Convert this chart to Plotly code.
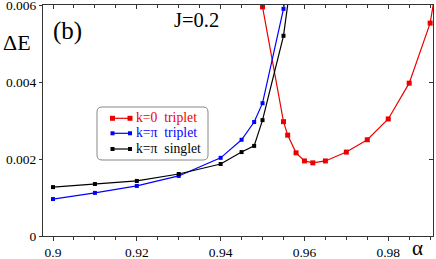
import plotly.graph_objects as go

# ---- data ----
alpha_k0_trip = [0.950, 0.955, 0.956, 0.958, 0.960, 0.962, 0.965, 0.970, 0.975, 0.980, 0.985, 0.990, 0.995]
dE_k0_trip = [0.00595, 0.00297, 0.00262, 0.00216, 0.00195, 0.00190, 0.00195, 0.00218, 0.00250, 0.00304, 0.00397, 0.00553, 0.00880]

alpha_kpi_trip = [0.90, 0.91, 0.92, 0.93, 0.94, 0.945, 0.948, 0.950, 0.955, 0.956]
dE_kpi_trip = [0.00096, 0.00112, 0.00130, 0.00156, 0.00203, 0.00250, 0.00296, 0.00345, 0.00590, 0.00660]

alpha_kpi_sing = [0.90, 0.91, 0.92, 0.93, 0.94, 0.945, 0.948, 0.950, 0.955, 0.957]
dE_kpi_sing = [0.00127, 0.00135, 0.00143, 0.00161, 0.00187, 0.00218, 0.00234, 0.00301, 0.00520, 0.00680]

series_names = ["k=0&nbsp;&nbsp;triplet", "k=π&nbsp;&nbsp;triplet", "k=π&nbsp;&nbsp;singlet"]

x_ticks = [0.90, 0.92, 0.94, 0.96, 0.98]
x_tick_labels = ["0.9", "0.92", "0.94", "0.96", "0.98"]
y_ticks = [0, 0.002, 0.004, 0.006]
y_tick_labels = ["0", "0.002", "0.004", "0.006"]

X_RANGE = [0.89761, 0.99068]
Y_RANGE = [0, 0.006]

SERIF = "'Liberation Serif', 'Times New Roman', Times, serif"
RED = "rgb(235,0,0)"
BLUE = "rgb(0,0,255)"
BLACK = "black"
colors = [RED, BLUE, BLACK]
msizes = [5, 4, 4]

fig = go.Figure()
for xs, ys, c, ms, nm in zip([alpha_k0_trip, alpha_kpi_trip, alpha_kpi_sing],
                             [dE_k0_trip, dE_kpi_trip, dE_kpi_sing], colors, msizes, series_names):
    fig.add_trace(go.Scatter(x=xs, y=ys, mode="lines+markers",
                             line=dict(color=c, width=1.2),
                             marker=dict(symbol="square", size=ms, color=c),
                             name=nm, showlegend=False))
# empty trace to activate mirrored tick axes
fig.add_trace(go.Scatter(x=[], y=[], xaxis="x2", yaxis="y2", showlegend=False, hoverinfo="skip"))

W, H = 436, 259
L, R, T, B = 43, 3, 5, 23
pw, ph = W - L - R, H - T - B


def px(xp):
    return (xp - L) / pw


def py(yp):
    return (H - B - yp) / ph


axis_common = dict(showgrid=False, zeroline=False, linecolor="#333", linewidth=1,
                   tickcolor="#333", tickwidth=1, ticklabeloverflow="allow",
                   tickfont=dict(family=SERIF, size=13.5, color="black"))

fig.update_layout(
    width=W, height=H,
    font=dict(family=SERIF, color="black"),
    margin=dict(l=L, r=R, t=T, b=B, autoexpand=False),
    paper_bgcolor="white", plot_bgcolor="white",
    showlegend=False,
    xaxis=dict(range=X_RANGE, tickvals=x_ticks, ticktext=x_tick_labels,
               ticks="outside", ticklen=4, mirror=True, showline=True,
               minor=dict(dtick=0.005, tick0=0.9, ticks="outside", ticklen=3, tickcolor="#333"),
               **axis_common),
    yaxis=dict(range=Y_RANGE, tickvals=y_ticks, ticktext=y_tick_labels,
               ticks="outside", ticklen=3, mirror=True, showline=True,
               **axis_common),
    xaxis2=dict(range=X_RANGE, overlaying="x", side="top", showticklabels=False,
                tickvals=x_ticks, ticks="inside", ticklen=4, showgrid=False, zeroline=False,
                showline=False, tickcolor="#333",
                minor=dict(dtick=0.005, tick0=0.9, ticks="inside", ticklen=3, tickcolor="#333")),
    yaxis2=dict(range=Y_RANGE, overlaying="y", side="right", showticklabels=False,
                tickvals=y_ticks, ticks="inside", ticklen=4, showgrid=False, zeroline=False,
                showline=False, tickcolor="#333"),
)

# rounded legend frame
x0, x1 = px(97), px(208)
y0, y1 = py(160), py(107)
rx, ry = 5 / pw, 5 / ph
path = (f"M {x0+rx},{y1} L {x1-rx},{y1} Q {x1},{y1} {x1},{y1-ry} "
        f"L {x1},{y0+ry} Q {x1},{y0} {x1-rx},{y0} L {x0+rx},{y0} "
        f"Q {x0},{y0} {x0},{y0+ry} L {x0},{y1-ry} Q {x0},{y1} {x0+rx},{y1} Z")
fig.add_shape(type="path", path=path, xref="paper", yref="paper",
              line=dict(color="#888", width=1), fillcolor="white", layer="above")

# legend entries (key line with end markers + coloured label)
row_y = [118.3, 133.3, 149.0]
for nm, c, ms, ry_ in zip(series_names, colors, msizes, row_y):
    fig.add_shape(type="line", x0=px(112.5), x1=px(130), y0=py(ry_), y1=py(ry_),
                  xref="paper", yref="paper", line=dict(color=c, width=1.2), layer="above")
    for xe in (112.5, 130):
        h = ms / 2
        fig.add_shape(type="rect", x0=px(xe - h), x1=px(xe + h), y0=py(ry_ + h), y1=py(ry_ - h),
                      xref="paper", yref="paper", line=dict(width=0), fillcolor=c, layer="above")
    fig.add_annotation(text=nm, x=px(133.5), y=py(ry_ - 0.5), xref="paper", yref="paper",
                       xanchor="left", yanchor="middle", showarrow=False,
                       font=dict(family=SERIF, size=13.7, color=c))

fig.add_annotation(text="(b)", x=px(51), y=py(31), xref="paper", yref="paper",
                   xanchor="left", yanchor="middle", showarrow=False,
                   font=dict(family=SERIF, size=25, color="black"))
fig.add_annotation(text="J=0.2", x=px(171.5), y=py(20), xref="paper", yref="paper",
                   xanchor="left", yanchor="middle", showarrow=False,
                   font=dict(family=SERIF, size=20.5, color="black"))
fig.add_annotation(text="ΔE", x=px(0.5), y=py(43), xref="paper", yref="paper",
                   xanchor="left", yanchor="middle", showarrow=False,
                   font=dict(family=SERIF, size=22, color="black"))
fig.add_annotation(text="α", x=px(417), y=py(248.5), xref="paper", yref="paper",
                   xanchor="center", yanchor="middle", showarrow=False,
                   font=dict(family=SERIF, size=21, color="black"))

fig.write_html("out.html", config={"displayModeBar": False},
               post_script="document.body.style.margin='0';")
